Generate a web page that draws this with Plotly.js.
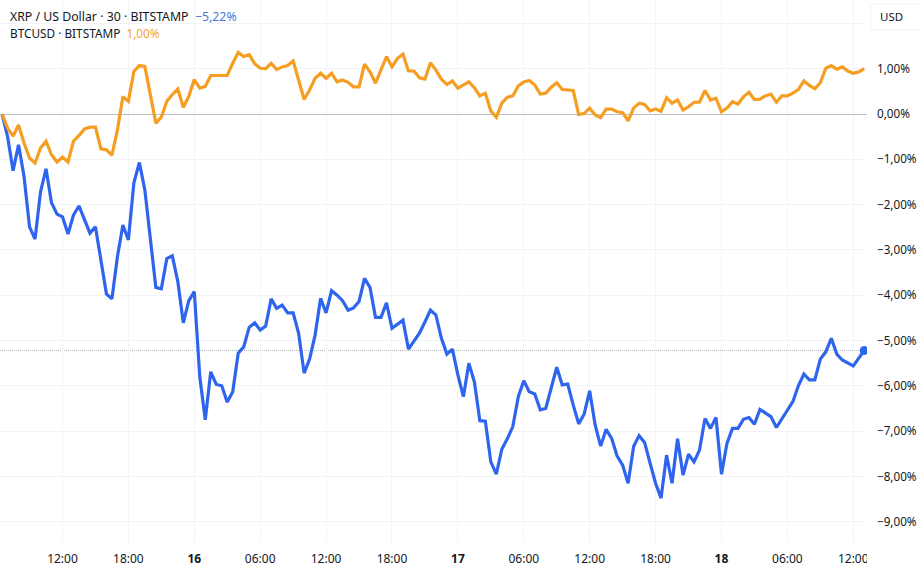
<!DOCTYPE html>
<html>
<head>
<meta charset="utf-8">
<script src="https://cdn.plot.ly/plotly-3.0.1.min.js"></script>
<style>html,body{margin:0;padding:0;background:#fff;overflow:hidden}#chart{width:920px;height:571px}</style>
</head>
<body>
<div id="chart"></div>
<script>
const xrpPct = [
0,-0.50,-1.25,-0.68,-1.38,-2.49,-2.76,-1.72,-1.21,-1.96,-2.21,-2.27,-2.65,-2.23,-2.03,-2.34,-2.63,-2.49,-3.26,-3.97,
-4.08,-3.15,-2.45,-2.78,-1.52,-1.07,-1.68,-2.71,-3.83,-3.86,-3.19,-3.13,-3.70,-4.61,-4.12,-3.92,-5.80,-6.75,-5.69,-5.97,
-6.00,-6.36,-6.13,-5.28,-5.14,-4.71,-4.61,-4.77,-4.68,-4.08,-4.29,-4.22,-4.39,-4.39,-4.84,-5.72,-5.41,-4.88,-4.07,-4.39,
-3.90,-4.00,-4.12,-4.33,-4.28,-4.14,-3.63,-3.83,-4.49,-4.49,-4.17,-4.73,-4.64,-4.55,-5.19,-5.01,-4.84,-4.59,-4.33,-4.44,
-4.95,-5.30,-5.19,-5.76,-6.24,-5.50,-5.91,-6.77,-6.78,-7.68,-7.95,-7.40,-7.17,-6.90,-6.24,-5.89,-6.13,-6.18,-6.53,-6.50,
-6.06,-5.59,-5.98,-5.96,-6.42,-6.84,-6.62,-6.11,-6.87,-7.33,-6.96,-7.16,-7.55,-7.75,-8.15,-7.34,-7.10,-7.25,-7.71,-8.15,
-8.48,-7.53,-8.15,-7.17,-7.97,-7.51,-7.68,-7.42,-6.72,-6.94,-6.70,-7.95,-7.27,-6.94,-6.94,-6.74,-6.70,-6.85,-6.52,-6.61,
-6.68,-6.92,-6.73,-6.52,-6.35,-6.00,-5.74,-5.87,-5.87,-5.41,-5.25,-4.95,-5.30,-5.43,-5.49,-5.56,-5.39,-5.22
];
const btcPct = [
0,-0.31,-0.49,-0.24,-0.64,-0.97,-1.08,-0.75,-0.60,-0.90,-1.06,-0.95,-1.06,-0.60,-0.48,-0.33,-0.29,-0.29,-0.77,-0.79,
-0.91,-0.35,0.38,0.28,0.94,1.07,1.05,0.46,-0.20,-0.07,0.28,0.43,0.55,0.15,0.39,0.76,0.57,0.61,0.85,0.85,
0.85,0.85,1.12,1.36,1.27,1.31,1.11,1.01,1.00,1.12,0.98,1.04,1.07,1.17,0.75,0.32,0.53,0.79,0.90,0.79,
0.90,0.71,0.75,0.70,0.60,0.60,1.10,0.93,0.68,0.96,1.27,1.04,1.23,1.32,0.95,0.95,0.80,0.77,1.13,0.97,
0.77,0.65,0.73,0.57,0.64,0.71,0.58,0.40,0.46,0.07,-0.07,0.24,0.37,0.40,0.62,0.71,0.74,0.64,0.44,0.46,
0.59,0.69,0.54,0.53,0.52,-0.01,0.01,0.13,-0.02,-0.08,0.11,0.11,0.05,0.03,-0.15,0.13,0.24,0.21,0.07,0.11,
0.06,0.36,0.24,0.31,0.09,0.16,0.26,0.26,0.52,0.31,0.35,0.05,0.13,0.27,0.22,0.38,0.48,0.32,0.33,0.40,
0.44,0.26,0.40,0.40,0.46,0.54,0.73,0.63,0.56,0.69,1.01,1.07,0.99,1.04,0.95,0.90,0.93,1.00
];
const barIndex = xrpPct.map((_, i) => i);
const xTickBars = [11,23,35,47,59,71,83,95,107,119,131,143,155];
const xTickLabels = ['12:00','18:00','<b>16</b>','06:00','12:00','18:00','<b>17</b>','06:00','12:00','18:00','<b>18</b>','06:00','12:00'];
const yTickValues = [2,1,0,-1,-2,-3,-4,-5,-6,-7,-8,-9];
const yTickLabels = ['','1,00%','0,00%','−1,00%','−2,00%','−3,00%','−4,00%','−5,00%','−6,00%','−7,00%','−8,00%','−9,00%'];

const BLUE = '#2f65ee', ORANGE = '#f59e22', INK = '#131722', GRID = '#f3f4f8';
const FONT = '"Noto Sans", sans-serif';

const traces = [
  {x: barIndex, y: xrpPct, type: 'scatter', mode: 'lines', name: 'XRP / US Dollar',
   line: {color: BLUE, width: 3.2, shape: 'linear'}, hoverinfo: 'skip'},
  {x: barIndex, y: btcPct, type: 'scatter', mode: 'lines', name: 'BTCUSD',
   line: {color: ORANGE, width: 3.2, shape: 'linear'}, hoverinfo: 'skip'},
  {x: [barIndex[barIndex.length - 1]], y: [xrpPct[xrpPct.length - 1]], type: 'scatter', mode: 'markers',
   marker: {color: BLUE, size: 9, symbol: 'circle'}, hoverinfo: 'skip', cliponaxis: true}
];

const layout = {
  width: 920, height: 571, showlegend: false,
  paper_bgcolor: '#ffffff', plot_bgcolor: '#ffffff',
  margin: {l: 0, r: 53, t: 0, b: 28, pad: 0},
  font: {family: FONT, size: 12, color: INK},
  xaxis: {range: [-0.38, 157.5], tickmode: 'array', tickvals: xTickBars, ticktext: xTickLabels,
    showgrid: true, gridcolor: GRID, gridwidth: 1, zeroline: false, showline: false, ticks: '',
    ticklabelstandoff: 7, tickangle: 0, tickfont: {family: FONT, size: 12, color: INK}, fixedrange: true},
  yaxis: {side: 'right', range: [-9.47, 2.517], tickmode: 'array', tickvals: yTickValues, ticktext: yTickLabels,
    showgrid: true, gridcolor: GRID, gridwidth: 1, zeroline: true, zerolinecolor: '#bcbdc2', zerolinewidth: 1,
    showline: false, ticks: '', ticklabelstandoff: 9, tickfont: {family: FONT, size: 11.7, color: INK}, fixedrange: true},
  shapes: [
    {type: 'line', xref: 'paper', yref: 'y', x0: 0, x1: 1, y0: xrpPct[xrpPct.length - 1], y1: xrpPct[xrpPct.length - 1],
     line: {color: '#b2b5be', width: 1, dash: '1px,1px'}, layer: 'below'},
    {type: 'rect', xref: 'paper', yref: 'paper', x0: 1, x1: 1.07, y0: -0.06, y1: -0.002,
     fillcolor: '#ffffff', line: {width: 0}, layer: 'above'},
    {type: 'path', xref: 'paper', yref: 'paper',
     path: 'M 1.07,0.9926 L 1.0081,0.9926 Q 1.0046,0.9926 1.0046,0.9871 L 1.0046,0.9503 Q 1.0046,0.9448 1.0081,0.9448 L 1.07,0.9448',
     line: {color: GRID, width: 1}, layer: 'above'}
  ],
  annotations: [
    {xref: 'paper', yref: 'paper', x: 0.0, y: 1, xshift: 8, yshift: -6, xanchor: 'left', yanchor: 'top', showarrow: false,
     text: 'XRP / US Dollar · 30 · BITSTAMP  <span style="color:#4a78dc">−5,22%</span>', font: {family: FONT, size: 12.3, color: INK}, align: 'left'},
    {xref: 'paper', yref: 'paper', x: 0.0, y: 1, xshift: 8, yshift: -23, xanchor: 'left', yanchor: 'top', showarrow: false,
     text: 'BTCUSD · BITSTAMP  <span style="color:#f0a52c">1,00%</span>', font: {family: FONT, size: 11.8, color: INK}, align: 'left'},
    {xref: 'paper', yref: 'paper', x: 1, y: 1, xshift: 24, yshift: -7, xanchor: 'center', yanchor: 'top', showarrow: false,
     text: 'USD', font: {family: FONT, size: 11.5, color: INK}}
  ]
};

Plotly.newPlot('chart', traces, layout, {displayModeBar: false, staticPlot: true, responsive: false});
</script>
</body>
</html>
